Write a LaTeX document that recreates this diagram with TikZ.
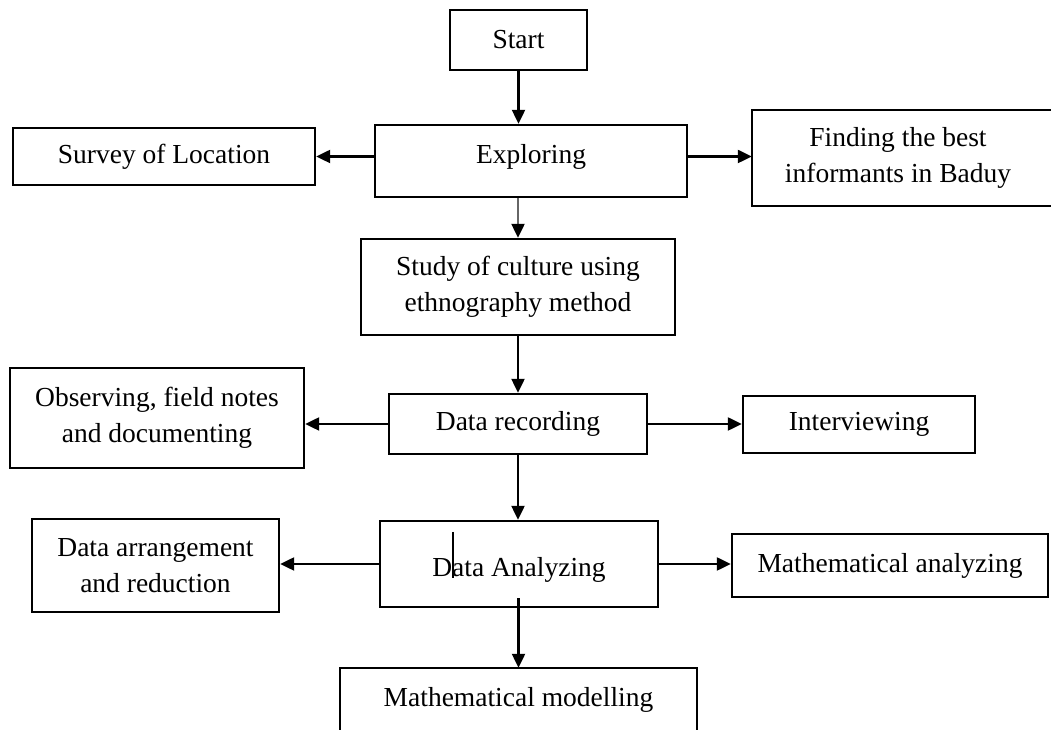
\documentclass[tikz,border=0pt]{standalone}
\usepackage{fontspec}
\setmainfont{Liberation Serif}
\usetikzlibrary{arrows.meta,calc}
\begin{document}
\begin{tikzpicture}[x=1pt,y=1pt,
  box/.style={draw,line width=2.4pt,inner sep=0pt,align=center,
    font=\fontsize{27.5}{36}\selectfont},
  openbox/.style={inner sep=0pt,align=center,font=\fontsize{27.5}{36}\selectfont},
  arr/.style={line width=2.3pt,-{Triangle[length=14pt,width=13pt]}},
  edge/.style={line width=2.4pt}]
\useasboundingbox (0,0) rectangle (1051,730);
\node[box,minimum width=137pt,minimum height=60pt] (start) at (518.5,690) {Start};
\node[box,minimum width=312pt,minimum height=72pt,text depth=14pt] (expl) at (531,569) {Exploring};
\node[box,minimum width=302pt,minimum height=57pt] (survey) at (164,573.5) {Survey of Location};
\node[openbox,minimum width=292pt,minimum height=96pt] (find) at (898,572) {Finding the best\\informants in Baduy};
\draw[edge] ([xshift=320pt]find.north west) -- (find.north west) -- (find.south west) -- ([xshift=320pt]find.south west);
\node[box,minimum width=314pt,minimum height=96pt] (study) at (518,443) {Study of culture using\\ethnography method};
\node[box,minimum width=258pt,minimum height=60pt] (rec) at (518,306) {Data recording};
\node[box,minimum width=294pt,minimum height=100pt] (obs) at (157,312) {Observing, field notes\\and documenting};
\node[box,minimum width=232pt,minimum height=57pt] (intv) at (859,305.5) {Interviewing};
\node[box,minimum width=278pt,minimum height=86pt,text height=31pt,text depth=6pt] (ana) at (519,166) {Data Analyzing};
\node[box,minimum width=247pt,minimum height=93pt] (arrg) at (155.5,164.5) {Data arrangement\\and reduction};
\node[box,minimum width=316pt,minimum height=63pt] (mana) at (890,164.5) {Mathematical analyzing};
\node[openbox,minimum width=357pt,minimum height=58pt] (model) at (518.5,30) {Mathematical modelling};
\draw[edge] ([yshift=-30pt]model.south west) -- ([yshift=3pt]model.north west) -- ([yshift=3pt]model.north east) -- ([yshift=-30pt]model.south east);
\coordinate (stray1) at (453,198);
\coordinate (stray2) at (453,152);
\draw[line width=1.8pt] (stray1) -- (stray2);
% connectors
\draw[arr] (start.south) -- (start.south |- expl.north);
\draw[arr] (survey.east -| expl.west) -- (survey.east);
\draw[arr] (survey.east -| expl.east) -- (survey.east -| find.west);
\draw[line width=2.3pt,draw=black!60,-{Triangle[length=14pt,width=13pt,color=black,fill=black]}] (study.north |- expl.south) -- (study.north);
\draw[arr] (study.south) -- (rec.north);
\draw[arr] (rec.west) -- (rec.west -| obs.east);
\draw[arr] (rec.east) -- (rec.east -| intv.west);
\draw[arr] (rec.south) -- (rec.south |- ana.north);
\draw[arr] (ana.west) -- (ana.west -| arrg.east);
\draw[arr] (ana.east) -- (ana.east -| mana.west);
\draw[arr] ($(model.north |- ana.south)+(0,10)$) -- ([yshift=3pt]model.north);
\end{tikzpicture}
\end{document}
